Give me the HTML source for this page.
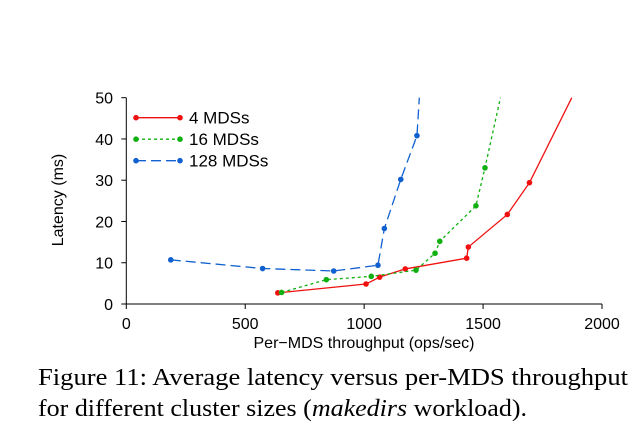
<!DOCTYPE html>
<html><head><meta charset="utf-8"><style>
body{margin:0;background:#fff;}
svg{display:block;font-family:"Liberation Sans",sans-serif;}
</style></head><body>
<svg id="chart" width="640" height="437" viewBox="0 0 640 437">
<g id="axes"></g><g id="series"></g>
<g id="legend"></g>
<text x="63" y="200" font-size="16" text-anchor="middle" transform="rotate(-90 63 200)">Latency (ms)</text>
<text x="364" y="348" font-size="16" text-anchor="middle">Per−MDS throughput (ops/sec)</text>
<text x="38" y="385" font-size="24" font-family="Liberation Serif, serif" textLength="590" lengthAdjust="spacingAndGlyphs">Figure 11: Average latency versus per-MDS throughput</text>
<text x="38" y="416" font-size="24" font-family="Liberation Serif, serif" textLength="489" lengthAdjust="spacingAndGlyphs">for different cluster sizes (<tspan font-style="italic">makedirs</tspan> workload).</text>
</svg>
<script>
const xTicks=[0,500,1000,1500,2000];
const yTicks=[0,10,20,30,40,50];
const seriesNames=["4 MDSs","16 MDSs","128 MDSs"];
const x4=[637,1008,1065,1173,1431,1438,1602,1695,1873];
const y4=[2.7,4.85,6.5,8.5,11.1,13.8,21.7,29.4,50];
const x16=[653,841,1030,1218,1298,1318,1470,1508,1573];
const y16=[2.8,5.9,6.7,8.2,12.3,15.2,23.8,33,50];
const x128=[187,573,872,1058,1085,1154,1222,1232];
const y128=[10.7,8.6,8.0,9.4,18.3,30.2,40.8,50];
const NS="http://www.w3.org/2000/svg";
const X=v=>126.3+v*(602-126.3)/2000;
const Y=v=>304-v*(304-97.7)/50;
function mk(t,a,p){const e=document.createElementNS(NS,t);for(const k in a)e.setAttribute(k,a[k]);p.appendChild(e);return e;}
const ax=document.getElementById('axes');
let l=mk('line',{x1:X(0),y1:Y(0),x2:X(2000),y2:Y(0),stroke:'#000'},ax);


l=mk('line',{x1:X(0),y1:Y(0),x2:X(0),y2:Y(50),stroke:'#000'},ax);


xTicks.forEach(v=>{mk('line',{x1:X(v),x2:X(v),y1:Y(0),y2:Y(0)+5,stroke:'#000'},ax);
 const t=mk('text',{x:X(v),y:329,'font-size':16,'text-anchor':'middle'},ax);t.textContent=v;
 
 });
yTicks.forEach(v=>{mk('line',{x1:X(0)-5,x2:X(0),y1:Y(v),y2:Y(v),stroke:'#000'},ax);
 const t=mk('text',{x:113,y:Y(v)+6,'font-size':16,'text-anchor':'end'},ax);t.textContent=v;
 
 });
const cfg=[[x4,y4,'#f01010','none'],[x16,y16,'#10b010','3,3'],[x128,y128,'#1060d0','10,5']];
const sg=document.getElementById('series'),lg=document.getElementById('legend');
cfg.forEach((c,i)=>{
 const g=mk('g',{},sg);
 
 
 mk('polyline',{points:c[0].map((v,j)=>X(v)+','+Y(c[1][j])).join(' '),fill:'none',stroke:c[2],'stroke-width':1.3,'stroke-dasharray':c[3]},g);
 c[0].forEach((v,j)=>{if(j<c[0].length-1){const p=mk('circle',{cx:X(v),cy:Y(c[1][j]),r:2.8,fill:c[2]},g);
  
  }});
 const ly=117.7+i*21.5;
 const e=mk('g',{},lg);
 
 
 mk('line',{x1:136,x2:180,y1:ly,y2:ly,stroke:c[2],'stroke-width':1.3,'stroke-dasharray':c[3]},e);
 mk('circle',{cx:136,cy:ly,r:2.8,fill:c[2]},e);mk('circle',{cx:180,cy:ly,r:2.8,fill:c[2]},e);
 const t=mk('text',{x:189,y:ly+6,'font-size':17},e);t.textContent=seriesNames[i];
});
</script>
</body></html>
